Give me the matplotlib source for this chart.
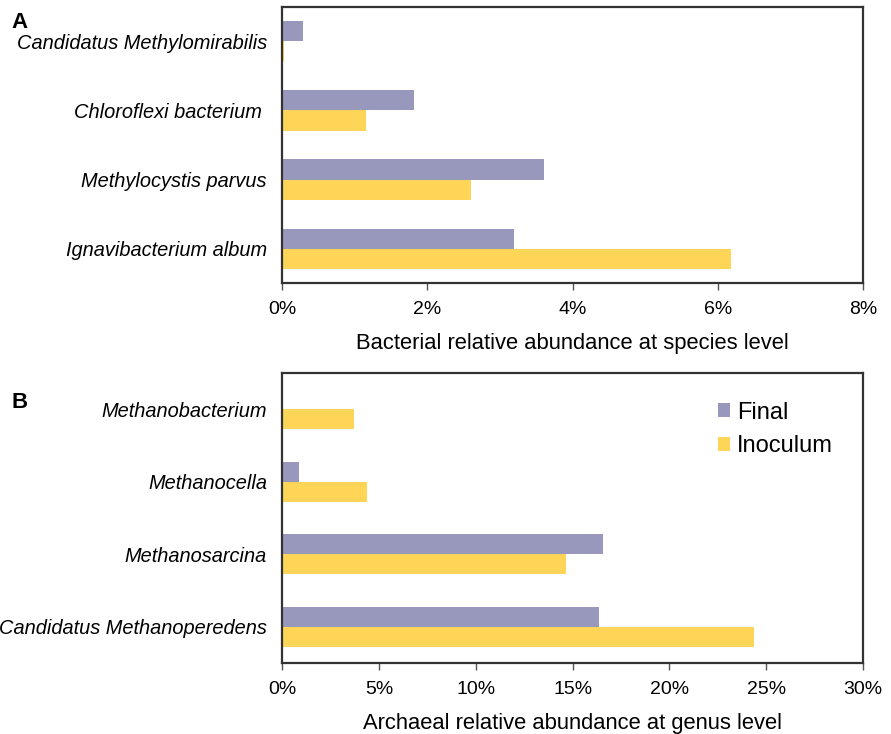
import matplotlib
matplotlib.use("Agg")
import matplotlib.pyplot as plt
import numpy as np
from matplotlib.ticker import FuncFormatter

plt.rcParams['font.family'] = ['Liberation Sans', 'DejaVu Sans']

# Panel A data (percent)
bact_species = ["Ignavibacterium album", "Methylocystis parvus",
                "Chloroflexi bacterium ", "Candidatus Methylomirabilis"]
bact_final = [3.19, 3.60, 1.81, 0.28]
bact_inoculum = [6.18, 2.60, 1.16, 0.02]

# Panel B data (percent)
arch_genera = ["Candidatus Methanoperedens", "Methanosarcina",
               "Methanocella", "Methanobacterium"]
arch_final = [16.36, 16.56, 0.88, 0.05]
arch_inoculum = [24.38, 14.67, 4.40, 3.68]

series_names = ["Final", "Inoculum"]
c_final = "#9898bd"
c_inoc = "#ffd557"

fig = plt.figure(figsize=(8.91, 7.34), dpi=100)
axA = fig.add_axes([0.3168, 0.6144, 0.6518, 0.3761])
axB = fig.add_axes([0.3168, 0.0967, 0.6518, 0.3951])

def draw(ax, cats, fin, ino, xmax, step, xlabel, h):
    y = np.arange(len(cats))
    ax.barh(y + h / 2, fin, height=h, color=c_final, label=series_names[0])
    ax.barh(y - h / 2, ino, height=h, color=c_inoc, label=series_names[1])
    ax.set_ylim(-0.5, len(cats) - 0.5)
    ax.set_xlim(0, xmax)
    ax.set_xticks(np.arange(0, xmax + step / 2, step))
    ax.xaxis.set_major_formatter(FuncFormatter(lambda v, p: f"{v:.0f}%"))
    ax.set_yticks(y)
    ax.set_yticklabels(cats, fontstyle='italic', fontsize=14.4)
    ax.tick_params(axis='y', length=0, pad=11)
    ax.tick_params(axis='x', length=5, width=1, color='#555555', labelsize=14, pad=8)
    ax.set_xlabel(xlabel, fontsize=15.8, labelpad=11)
    for s in ax.spines.values():
        s.set_linewidth(1.6)
        s.set_color('#333333')

draw(axA, bact_species, bact_final, bact_inoculum, 8, 2,
     "Bacterial relative abundance at species level", 0.29)
draw(axB, arch_genera, arch_final, arch_inoculum, 30, 5,
     "Archaeal relative abundance at genus level", 0.275)

leg = axB.legend(loc='upper right', bbox_to_anchor=(0.985, 0.975), frameon=False,
                 fontsize=17, handlelength=0.5, handleheight=0.5,
                 handletextpad=0.3, labelspacing=0.5)

fig.text(0.013, 0.970, "A", fontsize=16, fontweight='bold', va='center')
fig.text(0.013, 0.451, "B", fontsize=16, fontweight='bold', va='center')

fig.savefig("out.png", dpi=100)
